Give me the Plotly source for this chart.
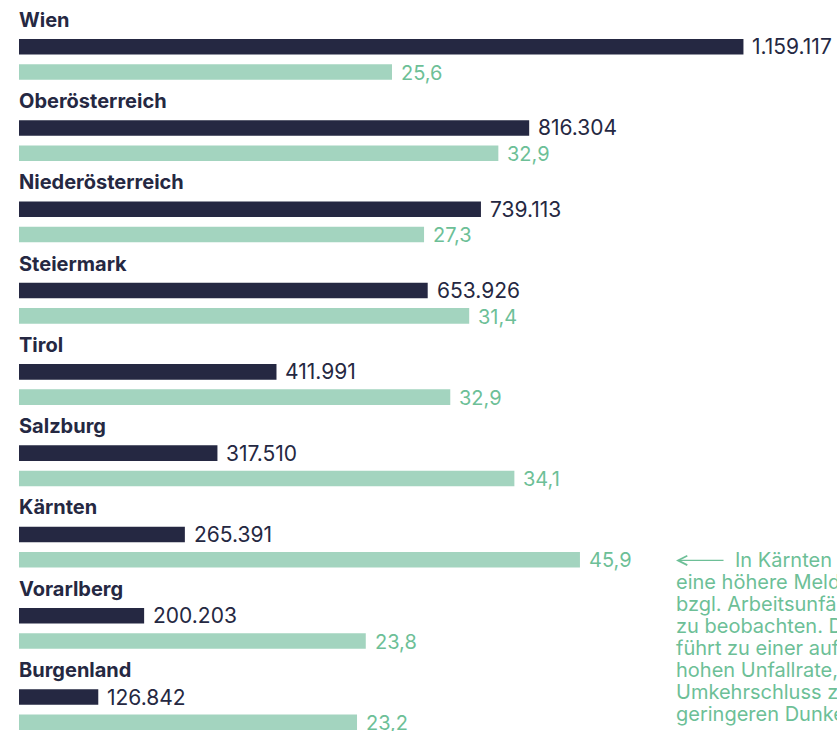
import plotly.graph_objects as go

# ---- data ----
regions = ["Wien", "Oberösterreich", "Niederösterreich", "Steiermark", "Tirol",
           "Salzburg", "Kärnten", "Vorarlberg", "Burgenland"]
workers = [1159117, 816304, 739113, 653926, 411991, 317510, 265391, 200203, 126842]
worker_labels = ["1.159.117", "816.304", "739.113", "653.926", "411.991",
                 "317.510", "265.391", "200.203", "126.842"]
# bar lengths of the rate bars as drawn in the picture
rate_bars = [25.6, 32.9, 27.8, 30.9, 29.6, 34.0, 38.5, 23.8, 23.2]
# printed rate labels
rate_labels = ["25,6", "32,9", "27,3", "31,4", "32,9", "34,1", "45,9", "23,8", "23,2"]

note_first = "In Kärnten ist"
note_rest = ["eine höhere Meldequote", "bzgl. Arbeitsunfällen", "zu beobachten. Dies",
             "führt zu einer auffallend", "hohen Unfallrate, im", "Umkehrschluss zu einem",
             "geringeren Dunkelfeld."]

DARK = "#252842"
GREEN_BAR = "#a3d4bf"
GREEN_TXT = "#6dbf97"
FONT = "Inter"
FS = 20

fig = go.Figure()
fig.add_trace(go.Bar(
    y=regions, x=workers, orientation="h", marker=dict(color=DARK, line=dict(width=0)),
    offset=-0.096, width=0.192, xaxis="x", yaxis="y", hoverinfo="skip", showlegend=False,
))
fig.add_trace(go.Bar(
    y=regions, x=rate_bars, orientation="h", marker=dict(color=GREEN_BAR, line=dict(width=0)),
    offset=0.215, width=0.192, xaxis="x2", yaxis="y", hoverinfo="skip", showlegend=False,
))

annotations = []
for r, w, wl, rb, rl in zip(regions, workers, worker_labels, rate_bars, rate_labels):
    annotations.append(dict(x=0, xref="paper", y=r, yref="y", text=f"<b>{r}</b>",
                            xanchor="left", yanchor="middle", yshift=27, xshift=-2,
                            showarrow=False, font=dict(family=FONT, size=20, color=DARK)))
    annotations.append(dict(x=w, xref="x", y=r, yref="y", text=wl,
                            xanchor="left", yanchor="middle", xshift=7, yshift=0,
                            showarrow=False, font=dict(family=FONT, size=21, color=DARK)))
    annotations.append(dict(x=rb, xref="x2", y=r, yref="y", text=rl,
                            xanchor="left", yanchor="middle", xshift=7, yshift=-26,
                            showarrow=False, font=dict(family=FONT, size=FS, color=GREEN_TXT)))

# side note
annotations.append(dict(x=0.8032, xref="paper", y="Kärnten", yref="y", yshift=-26,
                        text="", showarrow=True, ax=49, ay=0, arrowhead=5, arrowsize=1.4,
                        arrowwidth=1.3, arrowcolor=GREEN_TXT, standoff=0))
annotations.append(dict(x=0.8729, xref="paper", y="Kärnten", yref="y", yshift=-26,
                        text=note_first, xanchor="left", yanchor="middle", showarrow=False,
                        align="left", font=dict(family=FONT, size=FS, color=GREEN_TXT)))
for k, line in enumerate(note_rest, start=1):
    annotations.append(dict(x=0.8007, xref="paper", y="Kärnten", yref="y",
                            yshift=-(26 + 22 * k), text=line, xanchor="left",
                            yanchor="middle", showarrow=False, align="left",
                            font=dict(family=FONT, size=FS, color=GREEN_TXT)))

fig.update_layout(
    width=837, height=731,
    margin=dict(l=19, r=0, t=0, b=0),
    paper_bgcolor="white", plot_bgcolor="white",
    xaxis=dict(range=[0, 818 / 0.000625], visible=False, fixedrange=True),
    xaxis2=dict(range=[0, 818 / 14.57], overlaying="x", visible=False, fixedrange=True),
    yaxis=dict(type="category", categoryorder="array", categoryarray=regions,
               range=[8.418, -0.5745], visible=False, fixedrange=True),
    annotations=annotations,
    barmode="overlay",
    font=dict(family=FONT),
)

fig.write_html(
    "out.html",
    config={"displayModeBar": False},
    post_script="document.body.style.margin='0';document.body.style.overflow='hidden';",
)
